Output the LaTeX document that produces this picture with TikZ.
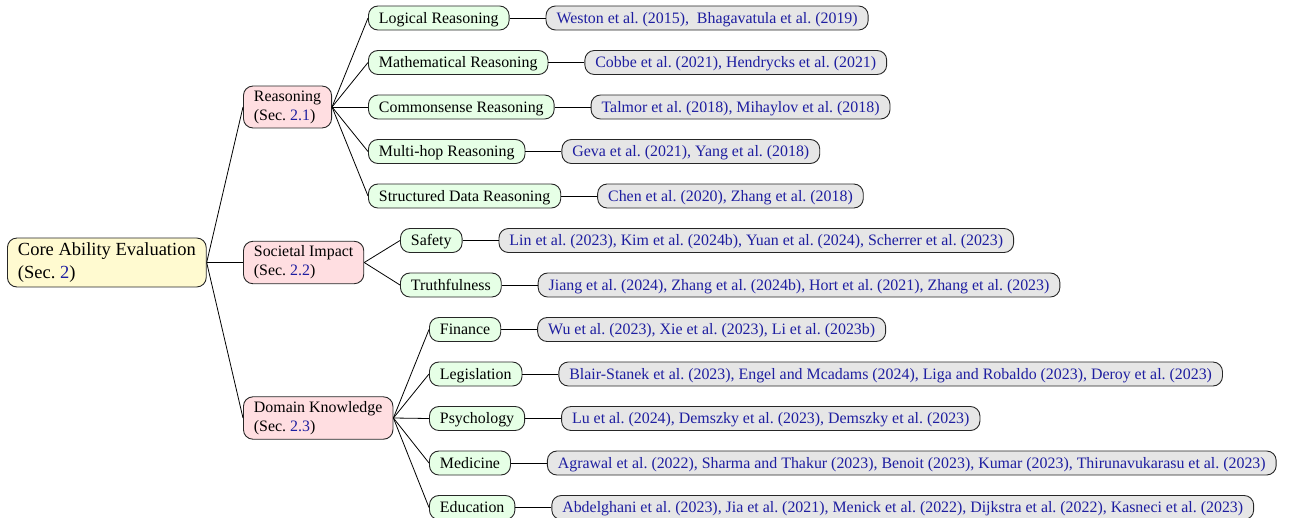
\documentclass[tikz,border=0pt]{standalone}
\usepackage{fontspec}
\setmainfont{Liberation Serif}
\usetikzlibrary{positioning}
\frenchspacing
\definecolor{rootfill}{RGB}{255,250,208}
\definecolor{secfill}{RGB}{255,222,225}
\definecolor{subfill}{RGB}{230,255,230}
\definecolor{leaffill}{RGB}{230,230,230}
\definecolor{citeblue}{RGB}{30,30,160}
\begin{document}
\begin{tikzpicture}[x=1pt,y=-1pt,
 base/.style={draw=black!85, line width=0.9pt, rounded corners=9.5pt, inner xsep=10.5pt, align=left, font=\fontsize{15.9}{19}\selectfont},
 rootbox/.style={base, fill=rootfill, inner ysep=5pt, font=\fontsize{18.5}{22.2}\selectfont, anchor=west},
 secbox/.style={base, fill=secfill, inner ysep=4.5pt, anchor=west},
 subbox/.style={base, fill=subfill, inner ysep=4pt, text height=13pt, text depth=3pt, anchor=west},
 leafbox/.style={base, fill=leaffill, inner ysep=4pt, text height=13pt, text depth=3pt, text=citeblue},
 link/.style={draw=black, line width=0.8pt}]
\useasboundingbox (0,0) rectangle (1290,517);

\node[rootbox] (root) at (7,262.5) {Core Ability Evaluation\\(Sec. \textcolor{citeblue}{2})};

\node[secbox] (reas) at (243,107) {Reasoning\\(Sec. \textcolor{citeblue}{2.1})};
\node[secbox] (soc) at (243,262.5) {Societal Impact\\(Sec. \textcolor{citeblue}{2.2})};
\node[secbox] (dom) at (243,418) {Domain Knowledge\\(Sec. \textcolor{citeblue}{2.3})};

\node[subbox] (logic) at (368,18) {Logical Reasoning};
\node[subbox] (math) at (368,62.5) {Mathematical Reasoning};
\node[subbox] (common) at (368,107) {Commonsense Reasoning};
\node[subbox] (multi) at (368,151.5) {Multi-hop Reasoning};
\node[subbox] (struct) at (368,196) {Structured Data Reasoning};
\node[subbox] (safety) at (400,240.5) {Safety};
\node[subbox] (truth) at (400,285) {Truthfulness};
\node[subbox] (fin) at (429,329.5) {Finance};
\node[subbox] (leg) at (429,374) {Legislation};
\node[subbox] (psy) at (429,418.5) {Psychology};
\node[subbox] (med) at (429,463) {Medicine};
\node[subbox] (edu) at (429,507.5) {Education};

\node[leafbox, right=36pt of logic] (llogic) {Weston et al. (2015),\ \ Bhagavatula et al. (2019)};
\node[leafbox, right=36pt of math] (lmath) {Cobbe et al. (2021), Hendrycks et al. (2021)};
\node[leafbox, right=36pt of common] (lcommon) {Talmor et al. (2018), Mihaylov et al. (2018)};
\node[leafbox, right=36pt of multi] (lmulti) {Geva et al. (2021), Yang et al. (2018)};
\node[leafbox, right=36pt of struct] (lstruct) {Chen et al. (2020), Zhang et al. (2018)};
\node[leafbox, right=36pt of safety] (lsafety) {Lin et al. (2023), Kim et al. (2024b), Yuan et al. (2024), Scherrer et al. (2023)};
\node[leafbox, right=36pt of truth] (ltruth) {Jiang et al. (2024), Zhang et al. (2024b), Hort et al. (2021), Zhang et al. (2023)};
\node[leafbox, right=36pt of fin] (lfin) {Wu et al. (2023), Xie et al. (2023), Li et al. (2023b)};
\node[leafbox, right=36pt of leg] (lleg) {Blair-Stanek et al. (2023), Engel and Mcadams (2024), Liga and Robaldo (2023), Deroy et al. (2023)};
\node[leafbox, right=36pt of psy] (lpsy) {Lu et al. (2024), Demszky et al. (2023), Demszky et al. (2023)};
\node[leafbox, right=36pt of med] (lmed) {Agrawal et al. (2022), Sharma and Thakur (2023), Benoit (2023), Kumar (2023), Thirunavukarasu et al. (2023)};
\node[leafbox, right=36pt of edu] (ledu) {Abdelghani et al. (2023), Jia et al. (2021), Menick et al. (2022), Dijkstra et al. (2022), Kasneci et al. (2023)};

\foreach \c in {reas,soc,dom} \draw[link] (root.east) -- (\c.west);
\foreach \c in {logic,math,common,multi,struct} \draw[link] (reas.east) -- (\c.west);
\foreach \c in {safety,truth} \draw[link] (soc.east) -- (\c.west);
\foreach \c in {fin,leg,psy,med,edu} \draw[link] (dom.east) -- (\c.west);
\foreach \c in {logic,math,common,multi,struct,safety,truth,fin,leg,psy,med,edu} \draw[link] (\c.east) -- (l\c.west);
\end{tikzpicture}
\end{document}
